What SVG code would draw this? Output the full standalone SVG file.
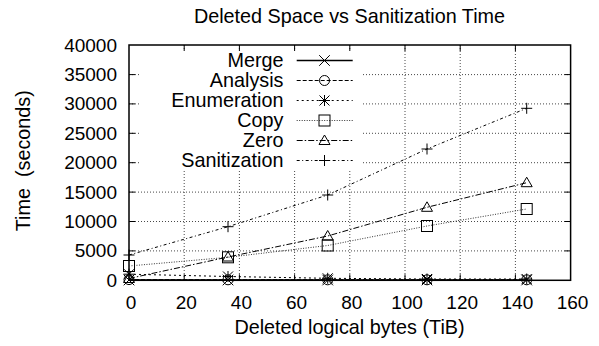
<svg xmlns="http://www.w3.org/2000/svg" width="599" height="346" viewBox="0 0 599 346">
<style>
text{font-family:"Liberation Sans",Arial,Helvetica,sans-serif;fill:#000}
.t{font-size:19px}
.l{font-size:19.8px}
.pre{white-space:pre}
.grid{stroke:#333;stroke-width:0.9;stroke-dasharray:1,2;fill:none}
.tick{stroke:#000;stroke-width:1;fill:none}
.border{stroke:#000;stroke-width:1.5;fill:none}
.s{fill:none;stroke:#000;stroke-width:1}
.merge{stroke-dasharray:none;stroke-width:1.3}
.analysis{stroke-dasharray:4,2}
.enum{stroke-dasharray:2,3}
.copy{stroke-dasharray:1,1.5;stroke:#333}
.zero{stroke-dasharray:6,2,1.5,2}
.san{stroke-dasharray:3,2.5,1,2.5}
.m{fill:none;stroke:#000;stroke-width:1}
</style>
<defs>
<g id="mk-cross"><path class="m" d="M-5.3,-5.3L5.3,5.3M-5.3,5.3L5.3,-5.3"/></g>
<g id="mk-circle"><circle class="m" r="5"/></g>
<g id="mk-star"><path class="m" d="M-5,-5L5,5M-5,5L5,-5M-5.5,0H5.5M0,-5.5V5.5"/></g>
<g id="mk-square"><rect class="m" x="-5.5" y="-5.5" width="11" height="11"/></g>
<g id="mk-tri"><polygon class="m" points="0,-5.5 5.5,4 -5.5,4"/></g>
<g id="mk-plus"><path class="m" d="M-5.5,0H5.5M0,-5.5V5.5"/></g>
</defs>
<rect width="599" height="346" fill="#fff"/>
<text class="l" x="349.5" y="23" text-anchor="middle">Deleted Space vs Sanitization Time</text>
<g id="grid">
<path class="grid" d="M184.2,45V280.3M239.4,45V280.3M294.6,45V280.3M349.8,45V280.3M405,45V280.3M460.2,45V280.3M515.4,45V280.3"/>
<path class="grid" d="M129,250.9H570.6M129,221.5H570.6M129,192.1H570.6M129,162.7H570.6M129,133.3H570.6M129,103.9H570.6M129,74.6H570.6"/>
<rect x="140" y="50" width="222" height="119" fill="#fff"/>
</g>
<g id="axes">
<path class="tick" d="M129,250.9h6M129,221.5h6M129,192.1h6M129,162.7h6M129,133.3h6M129,103.9h6M129,74.6h6M570.6,250.9h-6M570.6,221.5h-6M570.6,192.1h-6M570.6,162.7h-6M570.6,133.3h-6M570.6,103.9h-6M570.6,74.6h-6"/>
<path class="tick" d="M184.2,280.3v-6M239.4,280.3v-6M294.6,280.3v-6M349.8,280.3v-6M405,280.3v-6M460.2,280.3v-6M515.4,280.3v-6M184.2,45v6M239.4,45v6M294.6,45v6M349.8,45v6M405,45v6M460.2,45v6M515.4,45v6"/>
<rect class="border" x="129" y="45" width="441.6" height="235.3"/>
<g class="t" text-anchor="end">
<text x="117" y="286.8">0</text>
<text x="117" y="257.4">5000</text>
<text x="117" y="228">10000</text>
<text x="117" y="198.6">15000</text>
<text x="117" y="169.2">20000</text>
<text x="117" y="139.8">25000</text>
<text x="117" y="110.4">30000</text>
<text x="117" y="81.1">35000</text>
<text x="117" y="51.6">40000</text>
</g>
<g class="t" text-anchor="middle">
<text x="131" y="308.5">0</text>
<text x="186.2" y="308.5">20</text>
<text x="241.4" y="308.5">40</text>
<text x="296.6" y="308.5">60</text>
<text x="351.8" y="308.5">80</text>
<text x="407" y="308.5">100</text>
<text x="462.2" y="308.5">120</text>
<text x="517.4" y="308.5">140</text>
<text x="572.6" y="308.5">160</text>
</g>
<text class="l" x="349.5" y="334" text-anchor="middle">Deleted logical bytes (TiB)</text>
<text class="l pre" transform="translate(30,160.7) rotate(-90)" text-anchor="middle">Time  (seconds)</text>
</g>
<g id="connectors">
<polyline id="line-merge" class="s merge" points="129,280 228,280 327.7,280 427,280 526.7,280"/>
<polyline id="line-analysis" class="s analysis" points="129,279.6 228,279.8 327.7,279.8 427,279.8 526.7,279.8"/>
<polyline id="line-enum" class="s enum" points="129,274.2 228,276.5 327.7,278.3 427,279 526.7,279"/>
<polyline id="line-copy" class="s copy" points="129,266 228,257.3 327.7,245.5 427,226 526.7,209"/>
<polyline id="line-zero" class="s zero" points="129,278.5 228,257 327.7,236 427,207.3 526.7,182.7"/>
<polyline id="line-san" class="s san" points="129,255 228,226.7 327.7,195 427,149 526.7,108.3"/>
</g>
<g id="series-merge">
<use href="#mk-cross" x="129" y="280"/><use href="#mk-cross" x="228" y="280"/><use href="#mk-cross" x="327.7" y="280"/><use href="#mk-cross" x="427" y="280"/><use href="#mk-cross" x="526.7" y="280"/>
</g>
<g id="series-analysis">
<use href="#mk-circle" x="129" y="279.6"/><use href="#mk-circle" x="228" y="279.8"/><use href="#mk-circle" x="327.7" y="279.8"/><use href="#mk-circle" x="427" y="279.8"/><use href="#mk-circle" x="526.7" y="279.8"/>
</g>
<g id="series-enum">
<use href="#mk-star" x="129" y="274.2"/><use href="#mk-star" x="228" y="276.5"/><use href="#mk-star" x="327.7" y="278.3"/><use href="#mk-star" x="427" y="279"/><use href="#mk-star" x="526.7" y="279"/>
</g>
<g id="series-copy">
<use href="#mk-square" x="129" y="266"/><use href="#mk-square" x="228" y="257.3"/><use href="#mk-square" x="327.7" y="245.5"/><use href="#mk-square" x="427" y="226"/><use href="#mk-square" x="526.7" y="209"/>
</g>
<g id="series-zero">
<use href="#mk-tri" x="129" y="278.5"/><use href="#mk-tri" x="228" y="257"/><use href="#mk-tri" x="327.7" y="236"/><use href="#mk-tri" x="427" y="207.3"/><use href="#mk-tri" x="526.7" y="182.7"/>
</g>
<g id="series-san">
<use href="#mk-plus" x="129" y="255"/><use href="#mk-plus" x="228" y="226.7"/><use href="#mk-plus" x="327.7" y="195"/><use href="#mk-plus" x="427" y="149"/><use href="#mk-plus" x="526.7" y="108.3"/>
</g>
<g id="legend">
<g class="l" text-anchor="end">
<text x="283.5" y="67">Merge</text>
<text x="283.5" y="87">Analysis</text>
<text x="283.5" y="107">Enumeration</text>
<text x="283.5" y="127">Copy</text>
<text x="283.5" y="147">Zero</text>
<text x="283.5" y="167">Sanitization</text>
</g>
<path class="s merge" d="M296.7,60.5H352.7"/><use href="#mk-cross" x="324.5" y="60.5"/>
<path class="s analysis" d="M296.7,80.5H352.7"/><use href="#mk-circle" x="324.5" y="80.5"/>
<path class="s enum" d="M296.7,100.5H352.7"/><use href="#mk-star" x="324.5" y="100.5"/>
<path class="s copy" d="M296.7,120.5H352.7"/><use href="#mk-square" x="324.5" y="120.5"/>
<path class="s zero" d="M296.7,140.5H352.7"/><use href="#mk-tri" x="324.5" y="140.5"/>
<path class="s san" d="M296.7,160.5H352.7"/><use href="#mk-plus" x="324.5" y="160.5"/>
</g>
</svg>
